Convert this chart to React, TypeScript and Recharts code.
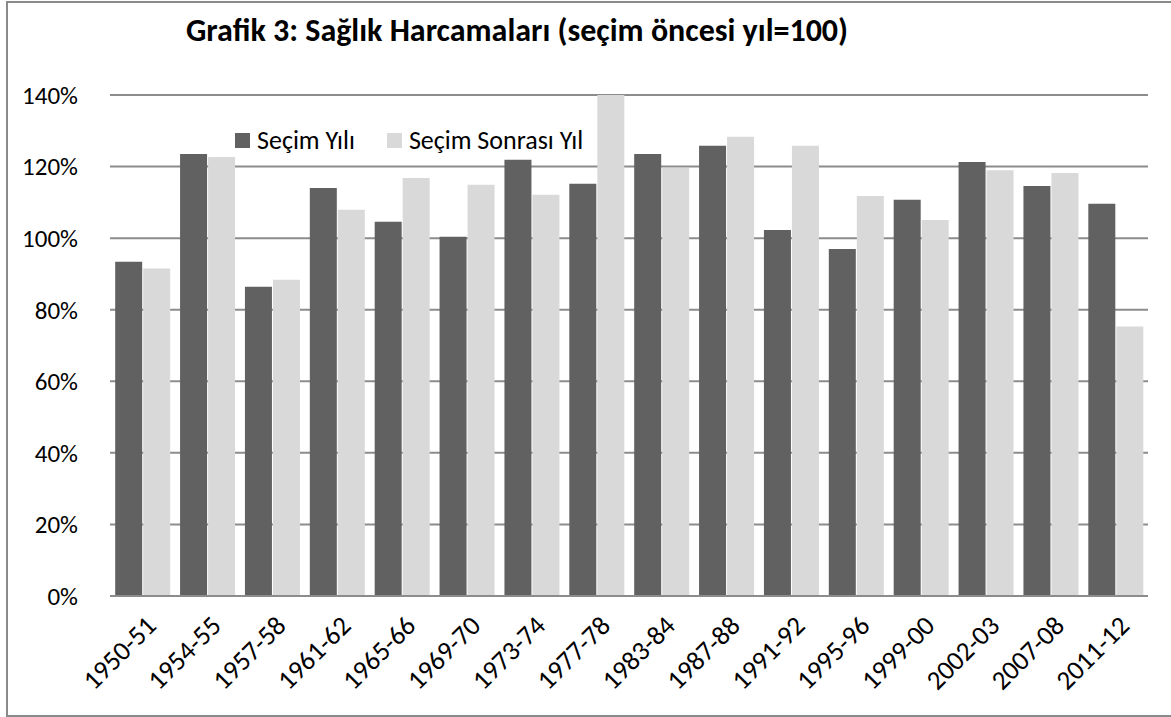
import React from "react";
import { BarChart, Bar, XAxis, YAxis, CartesianGrid } from "recharts";

const periods = [
  "1950-51", "1954-55", "1957-58", "1961-62", "1965-66", "1969-70", "1973-74", "1977-78",
  "1983-84", "1987-88", "1991-92", "1995-96", "1999-00", "2002-03", "2007-08", "2011-12",
];
const electionYear = [93.4, 123.5, 86.4, 114, 104.6, 100.4, 121.9, 115.2, 123.5, 125.8, 102.3, 97, 110.7, 121.3, 114.6, 109.6];
const postElectionYear = [91.5, 122.7, 88.4, 107.9, 116.8, 114.9, 112.1, 140, 119.6, 128.3, 125.8, 111.8, 105.1, 119, 118.2, 75.3];
const yTicks = [0, 20, 40, 60, 80, 100, 120, 140];

const data = periods.map((p, i) => ({ period: p, secim: electionYear[i], sonrasi: postElectionYear[i] }));

const FONT = "Carlito, Lato, sans-serif";
const DARK = "#616161";
const LIGHT = "#d9d9d9";
const GRID = "#8c8c8c";

const XTick = (props: any) => {
  const { x, y, payload } = props;
  return (
    <g transform={`translate(${x + 9},${y + 17}) rotate(-45)`}>
      <text x={0} y={0} dy={9} textAnchor="end" fill="#000" fontSize={27} fontFamily={FONT}>
        {payload.value}
      </text>
    </g>
  );
};

export default function App() {
  return (
    <div style={{ position: "absolute", left: 0, top: 0, width: 1171, height: 717, background: "#fff", overflow: "hidden" }}>
      <div
        style={{
          position: "absolute", left: 6, top: 1, width: 1200, height: 716,
          border: "2px solid #8a8a8a", boxSizing: "border-box",
        }}
      />
      <div
        style={{
          position: "absolute", left: 0, top: 11, width: 1034, textAlign: "center",
          fontFamily: FONT, fontWeight: 700, fontSize: 32, color: "#000",
        }}
      >
        Grafik 3: Sağlık Harcamaları (seçim öncesi yıl=100)
      </div>
      <BarChart
        width={1171}
        height={717}
        data={data}
        margin={{ top: 95, right: 23, bottom: 0, left: 0 }}
        barCategoryGap="8%"
        barGap={1}
      >
        <CartesianGrid vertical={false} stroke={GRID} strokeWidth={2} />
        <XAxis
          dataKey="period"
          interval={0}
          tick={<XTick />}
          tickLine={false}
          axisLine={{ stroke: GRID, strokeWidth: 2 }}
          height={121}
        />
        <YAxis
          domain={[0, 140]}
          ticks={yTicks}
          tickFormatter={(v: number) => `${v}%`}
          width={110}
          axisLine={false}
          tickLine={false}
          tickMargin={26}
          tick={{ fill: "#000", fontSize: 25, fontFamily: FONT }}
        />
        <Bar dataKey="secim" name="Seçim Yılı" fill={DARK} isAnimationActive={false} />
        <Bar dataKey="sonrasi" name="Seçim Sonrası Yıl" fill={LIGHT} isAnimationActive={false} />
      </BarChart>
      <div
        style={{
          position: "absolute", left: 235, top: 124, display: "flex", alignItems: "center",
          fontFamily: FONT, fontSize: 26, color: "#000", background: "transparent",
        }}
      >
        <span style={{ width: 15, height: 15, background: DARK, display: "inline-block", marginRight: 7 }} />
        <span>Seçim Yılı</span>
        <span style={{ width: 15, height: 15, background: LIGHT, display: "inline-block", marginLeft: 32, marginRight: 7 }} />
        <span>Seçim Sonrası Yıl</span>
      </div>
    </div>
  );
}
